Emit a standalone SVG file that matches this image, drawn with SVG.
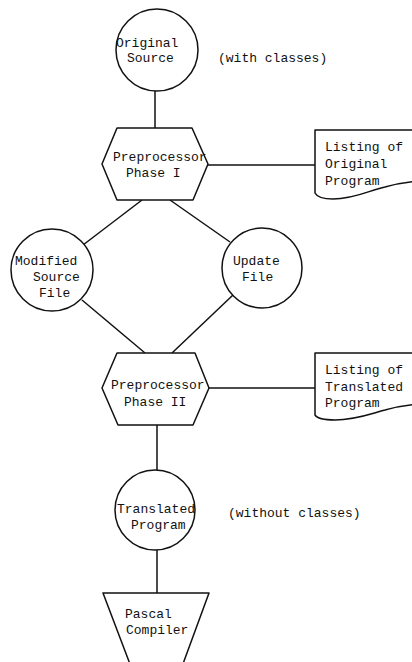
<svg xmlns="http://www.w3.org/2000/svg" width="412" height="662" viewBox="0 0 412 662">
  <style>
    .shape { fill: #ffffff; stroke: #111111; stroke-width: 1.5; stroke-linejoin: round; }
    .edge { fill: none; stroke: #111111; stroke-width: 1.5; }
    text { font-family: "Liberation Mono", "DejaVu Sans Mono", monospace; font-size: 13px; fill: #111111; }
  </style>
  <rect width="412" height="662" fill="#ffffff"/>

  <!-- connectors -->
  <g id="connectors">
    <line class="edge" x1="155" y1="91" x2="155" y2="128"/>
    <line class="edge" x1="208" y1="165" x2="315" y2="165"/>
    <line class="edge" x1="142" y1="200" x2="83" y2="245"/>
    <line class="edge" x1="170" y1="200" x2="230" y2="242"/>
    <line class="edge" x1="82" y1="300" x2="145" y2="353"/>
    <line class="edge" x1="233" y1="295" x2="172" y2="353"/>
    <line class="edge" x1="209" y1="388" x2="315" y2="388"/>
    <line class="edge" x1="157" y1="425" x2="157" y2="470"/>
    <line class="edge" x1="157" y1="550" x2="157" y2="593"/>
  </g>

  <!-- source program -->
  <g id="original-source">
    <circle class="shape" cx="157" cy="50" r="41"/>
    <text x="116" y="47">Original</text>
    <text x="127" y="62">Source</text>
  </g>
  <text x="218" y="62">(with classes)</text>

  <g id="preprocessor-phase-1">
    <polygon class="shape" points="117,128 192,128 208,164 193,200 117,200 102,164"/>
    <text x="113" y="161">Preprocessor</text>
    <text x="126" y="177">Phase I</text>
  </g>

  <g id="listing-original">
    <path class="shape" d="M 420 130 L 315 130 L 315 193 Q 318 199 333 199 C 355 199 370 190 385 187 C 395 184 405 182 420 181 Z"/>
    <text x="325" y="151">Listing of</text>
    <text x="325" y="168">Original</text>
    <text x="325" y="185">Program</text>
  </g>

  <g id="modified-source-file">
    <circle class="shape" cx="52" cy="270" r="41"/>
    <text x="15" y="265">Modified</text>
    <text x="33" y="281">Source</text>
    <text x="39" y="297">File</text>
  </g>

  <g id="update-file">
    <circle class="shape" cx="262" cy="268" r="40"/>
    <text x="233" y="265">Update</text>
    <text x="242" y="281">File</text>
  </g>

  <g id="preprocessor-phase-2">
    <polygon class="shape" points="117,353 195,353 209,388 193,425 118,425 102,388"/>
    <text x="111" y="389">Preprocessor</text>
    <text x="124" y="406">Phase II</text>
  </g>

  <g id="listing-translated">
    <path class="shape" d="M 420 353 L 315 353 L 315 415 Q 318 420 335 420 C 355 420 370 414 385 410 C 395 407 405 405 420 404 Z"/>
    <text x="325" y="374">Listing of</text>
    <text x="325" y="391">Translated</text>
    <text x="325" y="407">Program</text>
  </g>

  <g id="translated-program">
    <circle class="shape" cx="155" cy="510" r="40"/>
    <text x="117" y="513">Translated</text>
    <text x="131" y="529">Program</text>
  </g>
  <text x="228" y="517">(without classes)</text>

  <g id="pascal-compiler">
    <polygon class="shape" points="103,593 209,593 180,672 133,672"/>
    <text x="125" y="618">Pascal</text>
    <text x="126" y="634">Compiler</text>
  </g>
</svg>
